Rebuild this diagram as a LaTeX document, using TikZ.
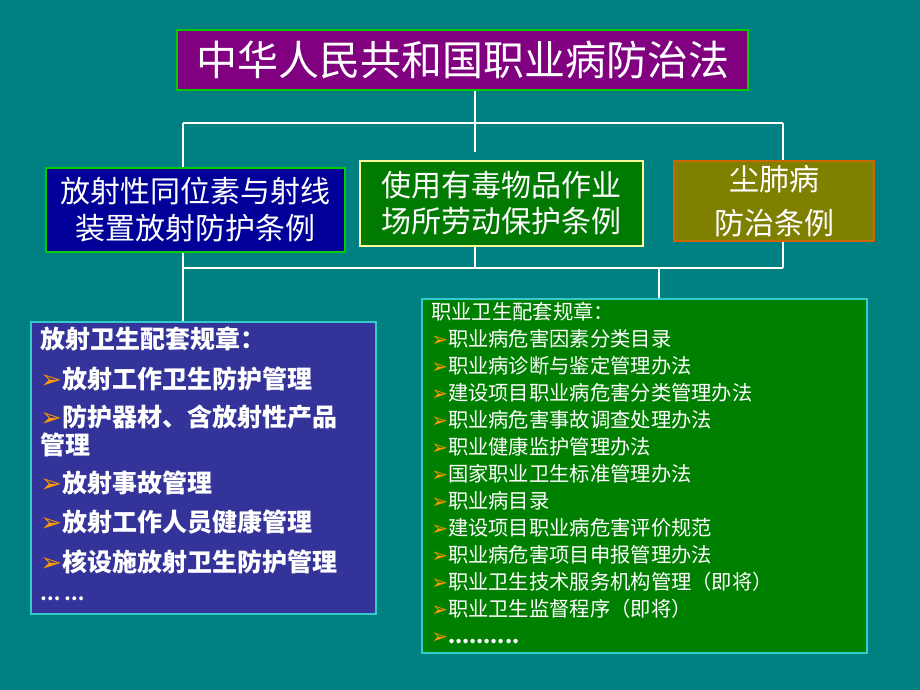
\documentclass[tikz,border=0pt]{standalone}
\usepackage{fontspec}
\usetikzlibrary{positioning}
\setmainfont{Noto Sans CJK SC}
\newfontfamily\dejavu{DejaVu Sans}
\definecolor{bgteal}{HTML}{008080}
\definecolor{lawpurple}{HTML}{800080}
\definecolor{radblue}{HTML}{000099}
\definecolor{toxgreen}{HTML}{007A00}
\definecolor{dustolive}{HTML}{808000}
\definecolor{ruleblue}{HTML}{333399}
\definecolor{rulegreen}{HTML}{008000}
\definecolor{framegreen}{HTML}{00CC00}
\definecolor{framecyan}{HTML}{33CCCC}
\definecolor{markorange}{HTML}{FF9900}
\newcommand{\listmark}[1]{{\color{markorange}\dejavu\fontsize{#1}{#1}\selectfont ➢}}

\begin{document}
\begin{tikzpicture}[x=1pt,y=-1pt,link/.style={draw=white,line width=2.5pt}]
  \tikzstyle{box}=[rectangle,draw,line width=1.8pt,text=white,align=center,inner sep=0pt]
  \tikzstyle{listtext}=[text=white,align=left,inner sep=0pt]
  \fill[bgteal] (0,0) rectangle (920,690);

  \node[box,fill=lawpurple,draw=framegreen,minimum width=571pt,minimum height=60pt,
        font=\fontsize{41}{48}\selectfont] (law) at (462.5,60) {中华人民共和国职业病防治法};
  \node[box,fill=radblue,draw=framegreen,minimum width=299pt,minimum height=84pt,
        font=\fontsize{30}{37}\selectfont] (rad) at (195.5,210) {放射性同位素与射线\\装置放射防护条例};
  \node[box,fill=toxgreen,draw=yellow!40,minimum width=283pt,minimum height=85pt,
        font=\fontsize{30}{36}\selectfont] (tox) at (501.5,203.5) {使用有毒物品作业\\场所劳动保护条例};
  \node[box,fill=dustolive,draw=orange!80!black,minimum width=200pt,minimum height=80pt,
        font=\fontsize{30}{44}\selectfont] (dust) at (774,201) {尘肺病\\防治条例};
  \node[box,fill=ruleblue,draw=framecyan,minimum width=345pt,minimum height=292pt] (radrules) at (203.5,468) {};
  \node[box,fill=rulegreen,draw=framecyan,minimum width=445pt,minimum height=354pt] (occrules) at (644.5,476) {};

  \node[listtext,font=\bfseries\fontsize{25}{25}\selectfont,below right=6pt and 10pt of radrules.north west] (radlist)
    {放射卫生配套规章：\\[15pt]
     \listmark{26}放射工作卫生防护管理\\[13pt]
     \listmark{26}防护器材、含放射性产品\\[3pt]
     管理\\[13pt]
     \listmark{26}放射事故管理\\[14pt]
     \listmark{26}放射工作人员健康管理\\[15pt]
     \listmark{26}核设施放射卫生防护管理\\[4pt]
     {\fontsize{18}{25}\selectfont … …}};
  \node[listtext,font=\fontsize{20.3}{27}\selectfont,below right=4pt and 10pt of occrules.north west] (occlist)
    {职业卫生配套规章：\\
     \listmark{20}职业病危害因素分类目录\\
     \listmark{20}职业病诊断与鉴定管理办法\\
     \listmark{20}建设项目职业病危害分类管理办法\\
     \listmark{20}职业病危害事故调查处理办法\\
     \listmark{20}职业健康监护管理办法\\
     \listmark{20}国家职业卫生标准管理办法\\
     \listmark{20}职业病目录\\
     \listmark{20}建设项目职业病危害评价规范\\
     \listmark{20}职业病危害项目申报管理办法\\
     \listmark{20}职业卫生技术服务机构管理（即将）\\
     \listmark{20}职业卫生监督程序（即将）\\
     \listmark{20}\textbf{..........}};

  \coordinate (upL) at (183,123);
  \coordinate (upM) at (475,123);
  \coordinate (upR) at (783,123);
  \coordinate (lowL) at (183,268);
  \coordinate (lowM) at (475,268);
  \coordinate (lowC) at (659,268);
  \coordinate (lowR) at (783,268);

  \draw[link] (law.south -| upM) -- (upM |- tox.north) [shorten >=8pt];
  \draw[link] (upL) -- (upR);
  \draw[link] (upL) -- (upL |- rad.north);
  \draw[link] (upR) -- (upR |- dust.north);
  \draw[link] (upL |- rad.south) -- (upL |- radrules.north);
  \draw[link] (lowL) -- (lowR);
  \draw[link] (upM |- tox.south) -- (lowM);
  \draw[link] (upR |- dust.south) -- (lowR);
  \draw[link] (lowC) -- (lowC |- occrules.north);
\end{tikzpicture}
\end{document}
